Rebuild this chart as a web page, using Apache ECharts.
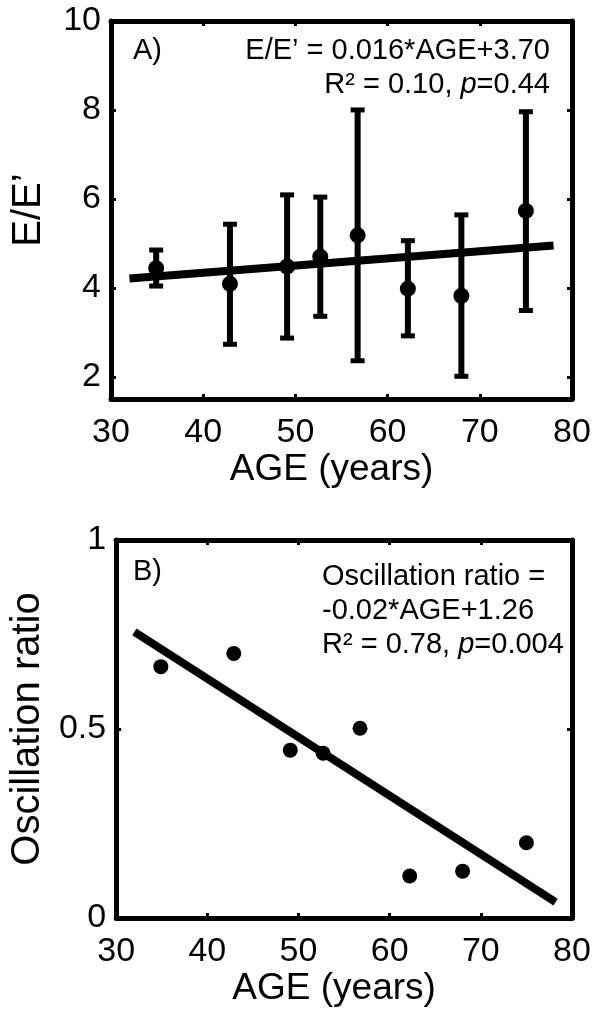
<!DOCTYPE html>
<html><head><meta charset="utf-8">
<script src="https://cdn.jsdelivr.net/npm/echarts@6/dist/echarts.min.js"></script>
<style>html,body{margin:0;padding:0;background:#fff}#c{width:599px;height:1018px}</style>
</head><body><div id="c"></div>
<script>
// ---- data ----
const ages = [34.9, 42.9, 49.1, 52.7, 56.75, 62.2, 68.0, 75.0];
const eeMean = [4.44, 4.09, 4.48, 4.70, 5.18, 3.98, 3.82, 5.73];
const eeLow = [4.04, 2.73, 2.87, 3.36, 2.36, 2.92, 2.01, 3.49];
const eeHigh = [4.85, 5.43, 6.09, 6.04, 8.00, 5.06, 5.64, 7.96];
const oscRatio = [0.665, 0.700, 0.444, 0.436, 0.502, 0.111, 0.124, 0.199];
const eeFitAges = [32, 78];
const eeFitValues = [4.21, 4.95];
const oscFitAges = [32, 78.2];
const oscFitValues = [0.757, 0.042];
const eeTickValues = [2, 4, 6, 8, 10];
const oscTickValues = [0, 0.5, 1];
const xLabelName = 'AGE (years)';
const eeName = 'E/E\u2019';
const oscName = 'Oscillation ratio';

const FONT = '"Liberation Sans", Arial, Helvetica, sans-serif';
const chart = echarts.init(document.getElementById('c'), null, {renderer: 'canvas'});

function xAx(grid, pos, labels) {
  return {
    type: 'value', gridIndex: grid, position: pos, min: 30, max: 80, interval: 10,
    name: labels ? xLabelName : '', nameLocation: 'middle', nameGap: 51,
    nameTextStyle: {fontSize: 37, color: '#000', fontFamily: FONT, padding: [0, 20, 0, 0]},
    axisLine: {show: true, onZero: false, lineStyle: {color: '#000', width: 5}},
    axisTick: {show: true, inside: true, length: 5, lineStyle: {color: '#000', width: 3}},
    axisLabel: {show: labels, fontSize: 34, color: '#000', fontFamily: FONT, margin: 17,
      showMinLabel: true, showMaxLabel: true},
    splitLine: {show: false}
  };
}
function yAx(grid, pos, labels, cfg) {
  return Object.assign({
    type: 'value', gridIndex: grid, position: pos,
    nameLocation: 'middle', nameGap: 62,
    nameTextStyle: {fontSize: 40, color: '#000', fontFamily: FONT},
    axisLine: {show: true, onZero: false, lineStyle: {color: '#000', width: 5}},
    axisTick: {show: true, inside: true, length: 5, lineStyle: {color: '#000', width: 3}},
    axisLabel: {show: labels, fontSize: 34, color: '#000', fontFamily: FONT, margin: 10,
      showMinLabel: true, showMaxLabel: true},
    splitLine: {show: false}
  }, cfg);
}

const eeBarsData = ages.map((a, i) => [a, eeLow[i], eeHigh[i]]);

function renderErr(params, api) {
  const x = api.value(0), lo = api.value(1), hi = api.value(2);
  const pLo = api.coord([x, lo]);
  const pHi = api.coord([x, hi]);
  const cw = 7;
  const st = {stroke: '#000', lineWidth: 6};
  const cs = {stroke: '#000', lineWidth: 5};
  return {type: 'group', children: [
    {type: 'line', shape: {x1: pHi[0], y1: pHi[1], x2: pLo[0], y2: pLo[1]}, style: st},
    {type: 'line', shape: {x1: pHi[0] - cw, y1: pHi[1], x2: pHi[0] + cw, y2: pHi[1]}, style: cs},
    {type: 'line', shape: {x1: pLo[0] - cw, y1: pLo[1], x2: pLo[0] + cw, y2: pLo[1]}, style: cs}
  ]};
}

const labelStyle = {show: true, fontSize: 34, color: '#000', fontFamily: FONT, margin: 10};
const tickStyle = {show: true, inside: true, length: 5, lineStyle: {color: '#000', width: 3}};

const option = {
  backgroundColor: '#fff',
  animation: false,
  grid: [
    {left: 111, right: 27, top: 21, height: 378},
    {left: 111, right: 27, top: 540, height: 378}
  ],
  xAxis: [xAx(0, 'bottom', true), xAx(0, 'top', false), xAx(1, 'bottom', true), xAx(1, 'top', false)],
  yAxis: [
    yAx(0, 'left', true, {min: 1.5, max: 10, name: eeName,
      axisLabel: Object.assign({}, labelStyle, {customValues: eeTickValues}),
      axisTick: Object.assign({}, tickStyle, {customValues: eeTickValues})}),
    yAx(0, 'right', false, {min: 1.5, max: 10,
      axisTick: Object.assign({}, tickStyle, {customValues: eeTickValues})}),
    yAx(1, 'left', true, {min: 0, max: 1, interval: 0.5, name: oscName,
      axisLabel: Object.assign({}, labelStyle, {customValues: oscTickValues})}),
    yAx(1, 'right', false, {min: 0, max: 1, interval: 0.5})
  ],
  series: [
    {type: 'custom', xAxisIndex: 0, yAxisIndex: 0, data: eeBarsData, renderItem: renderErr,
      encode: {x: 0, y: [1, 2]}, z: 3},
    {type: 'line', xAxisIndex: 0, yAxisIndex: 0, data: eeFitAges.map((a, i) => [a, eeFitValues[i]]),
      symbol: 'none', lineStyle: {color: '#000', width: 8}, z: 4},
    {type: 'scatter', xAxisIndex: 0, yAxisIndex: 0, data: ages.map((a, i) => [a, eeMean[i]]),
      symbolSize: 16, itemStyle: {color: '#000', opacity: 1}, z: 5},
    {type: 'line', xAxisIndex: 2, yAxisIndex: 2, data: oscFitAges.map((a, i) => [a, oscFitValues[i]]),
      symbol: 'none', lineStyle: {color: '#000', width: 8}, z: 4},
    {type: 'scatter', xAxisIndex: 2, yAxisIndex: 2, data: ages.map((a, i) => [a, oscRatio[i]]),
      symbolSize: 15, itemStyle: {color: '#000', opacity: 1}, z: 5}
  ],
  graphic: [
    {type: 'text', x: 133, y: 51, style: {text: 'A)', font: '29px ' + FONT, fill: '#000', align: 'left', verticalAlign: 'middle'}},
    {type: 'text', x: 550, y: 34, style: {
      text: 'E/E\u2019 = 0.016*AGE+3.70\nR\u00B2 = 0.10, {i|p}=0.44',
      font: '29px ' + FONT, fill: '#000', align: 'right', verticalAlign: 'top', lineHeight: 34,
      rich: {i: {fontStyle: 'italic', fontSize: 29, fontFamily: FONT, lineHeight: 34}}}},
    {type: 'text', x: 133, y: 572, style: {text: 'B)', font: '29px ' + FONT, fill: '#000', align: 'left', verticalAlign: 'middle'}},
    {type: 'text', x: 322, y: 560, style: {
      text: 'Oscillation ratio =\n-0.02*AGE+1.26\nR\u00B2 = 0.78, {i|p}=0.004',
      font: '29px ' + FONT, fill: '#000', align: 'left', verticalAlign: 'top', lineHeight: 34,
      rich: {i: {fontStyle: 'italic', fontSize: 29, fontFamily: FONT, lineHeight: 34}}}}
  ]
};
chart.setOption(option);
</script>
</body></html>
